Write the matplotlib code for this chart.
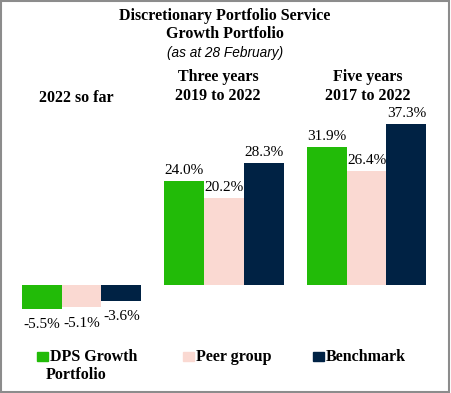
import numpy as np
import matplotlib.pyplot as plt
from matplotlib.patches import Rectangle

# data
groups = ["2022 so far", "Three years\n2019 to 2022", "Five years\n2017 to 2022"]
series = ["DPS Growth\nPortfolio", "Peer group", "Benchmark"]
dps = [-5.5, 24.0, 31.9]
peer = [-5.1, 20.2, 26.4]
bench = [-3.6, 28.3, 37.3]
colors = ["#22bb08", "#fad9d2", "#002244"]

W, H = 451, 393
fig = plt.figure(figsize=(W / 100, H / 100), dpi=100)
ax = fig.add_axes([0, 0, 1, 1])
ax.axis("off")

x = np.arange(len(groups))
w = 0.28
for i, vals in enumerate([dps, peer, bench]):
    xs = x + (i - 1) * w
    ax.bar(xs, vals, width=w, color=colors[i])
    for xi, v in zip(xs, vals):
        off = 3 if v > 0 else -7
        ax.annotate(f"{v:.1f}%", (xi, v), xytext=(0, off), textcoords="offset points",
                    ha="center", va="bottom" if v > 0 else "top",
                    family="Liberation Serif", fontsize=11)

# pixel-ish mapping: group centres at px 81.5, 224, 366.5 ; zero at 285 from top
ppx = 142.5
ax.set_xlim(-81.5 / ppx, (W - 81.5) / ppx)
ppy = 4.32
ax.set_ylim(-(H - 285) / ppy, 285 / ppy)


def fy(py):
    return 1 - py / H


serif_b = dict(family="Liberation Serif", fontweight="bold", fontsize=11.5, ha="center", va="center")
fig.text(225 / W, fy(16), "Discretionary Portfolio Service", **serif_b)
fig.text(225 / W, fy(34), "Growth Portfolio", **serif_b)
fig.text(225 / W, fy(53), "(as at 28 February)", family="Liberation Sans", style="italic",
         fontsize=9.8, ha="center", va="center")

fig.text(76 / W, fy(98), groups[0], **serif_b)
for cx, g in zip([218, 368], groups[1:]):
    l1, l2 = g.split("\n")
    fig.text(cx / W, fy(77), l1, **serif_b)
    fig.text(cx / W, fy(96), l2, **serif_b)

# legend
for lx, name, c in zip([37, 183, 313], series, colors):
    fig.patches.append(Rectangle((lx / W, fy(361)), 11 / W, 9 / H, transform=fig.transFigure,
                                 color=c))
    lines = name.split("\n")
    fig.text((lx + 13) / W, fy(357), lines[0], family="Liberation Serif", fontweight="bold",
             fontsize=11.5, ha="left", va="center")
    if len(lines) > 1:
        fig.text((lx + 9) / W, fy(375), lines[1], family="Liberation Serif", fontweight="bold",
                 fontsize=11.5, ha="left", va="center")

fig.patches.append(Rectangle((0.5 / W, 1.5 / H), (W - 2.5) / W, (H - 2.5) / H,
                             transform=fig.transFigure, fill=False, edgecolor="#8c8c8c", lw=1.5))

fig.savefig("out.png", dpi=100)
